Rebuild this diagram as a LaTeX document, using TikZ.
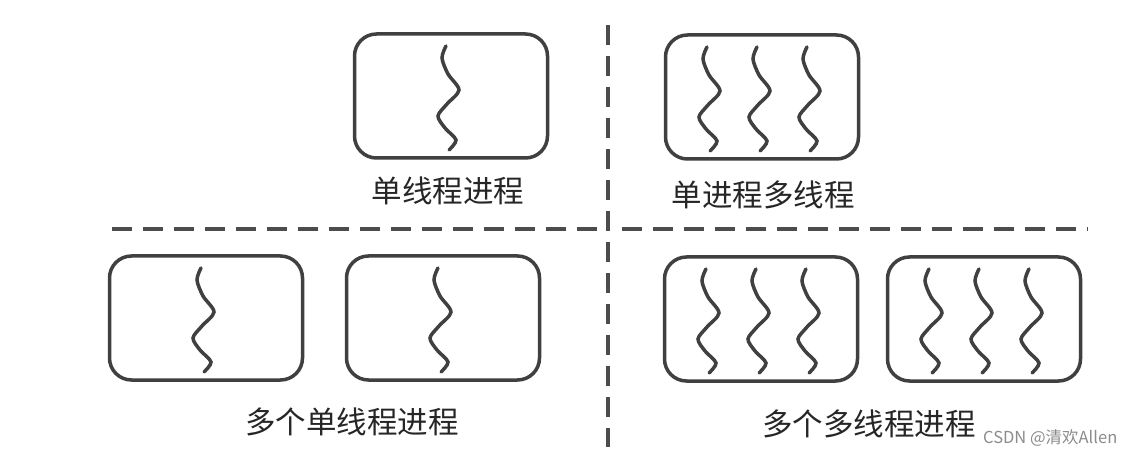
\documentclass[tikz,border=0pt]{standalone}
\usepackage{fontspec}
\setmainfont{Noto Sans CJK SC}
\begin{document}
\begin{tikzpicture}[x=1pt,y=-1pt,
  procbox/.style={draw=black!75,line width=3.5pt,rounded corners=22pt,minimum width=193pt,minimum height=124pt,inner sep=0pt},
  lbl/.style={text=black!85,font=\fontsize{30.5}{32}\selectfont,inner sep=0pt},
  sepline/.style={draw=black!70,line width=4pt,dash pattern=on 20pt off 11pt},
  wmark/.style={text=black!45,font=\fontsize{16.5}{18}\selectfont,inner sep=0pt},
  thread/.pic={\draw[black!75,line width=3.5pt,line cap=round] plot[smooth] coordinates{(-5,-50) (-9,-38) (-3,-22) (8,-6) (-4,8) (-13,20) (-6,32) (5,44) (-2,54)};}]
\fill[white] (0,0) rectangle (1130,457);
\useasboundingbox (0,0) rectangle (1130,457);
% separators
\draw[sepline] (608,25) -- (608,447);
\draw[sepline] (112,229) -- (600,229);
\draw[sepline] (622,229) -- (1088,229);
% single process, single thread
\node[procbox] (p1) at (451,96) {};
\pic at (p1.center) {thread};
\node[lbl] (l1) at (448,191) {单线程进程};
% single process, many threads
\node[procbox] (p2) at (762,97) {};
\foreach \dx in {-50,0,50}
  \pic at ([xshift=\dx pt]p2.center) {thread};
\node[lbl] (l2) at (763,195) {单进程多线程};
% many single-thread processes
\node[procbox] (q1) at (206,318) {};
\node[procbox] (q2) at (443,318) {};
\pic at (q1.center) {thread};
\pic at (q2.center) {thread};
\node[lbl] (l3) at (352,422) {多个单线程进程};
% many multi-thread processes
\node[procbox] (q3) at (761,319) {};
\node[procbox] (q4) at (984,319) {};
\foreach \dx in {-50,0,50}{
  \pic at ([xshift=\dx pt]q3.center) {thread};
  \pic at ([xshift=\dx pt]q4.center) {thread};
}
\node[lbl] (l4) at (869,424) {多个多线程进程};
\node[wmark,anchor=west] (wm) at (983,438) {CSDN @清欢Allen};
\end{tikzpicture}
\end{document}
